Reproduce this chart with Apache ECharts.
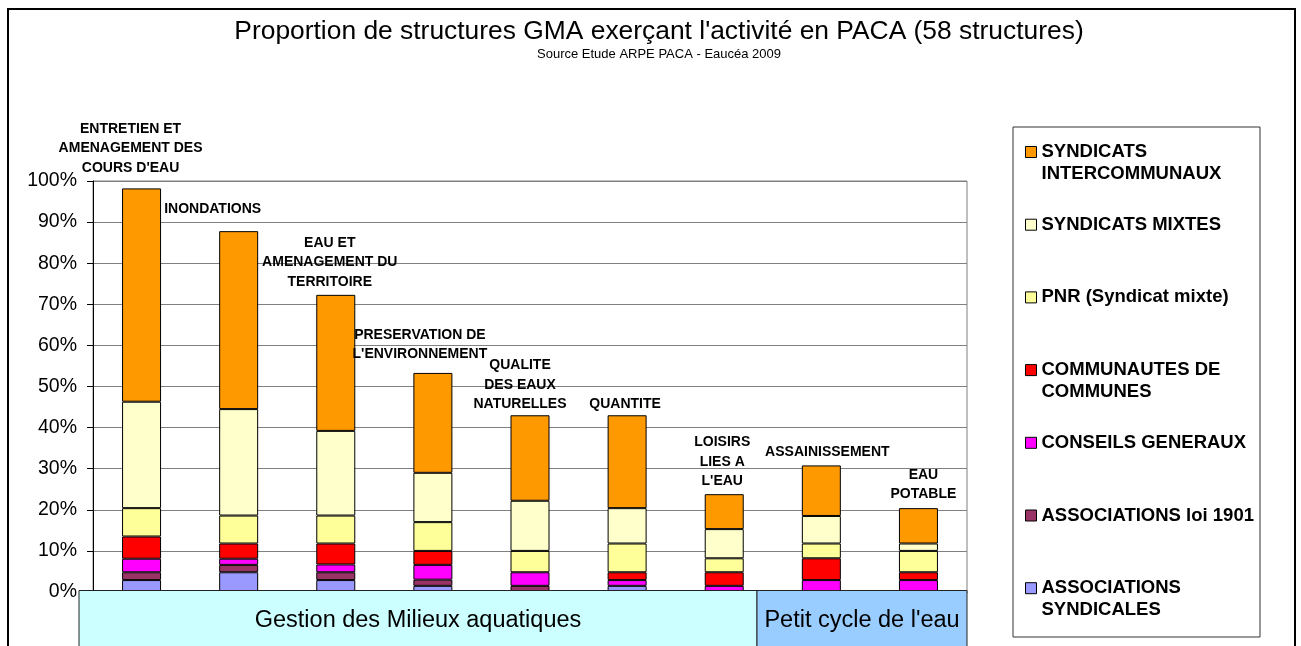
<!DOCTYPE html>
<html>
<head>
<meta charset="utf-8">
<script src="https://cdn.jsdelivr.net/npm/echarts@6/dist/echarts.min.js"></script>
<style>
html, body { margin: 0; padding: 0; background: #fff; }
#chart { width: 1301px; height: 646px; }
</style>
</head>
<body>
<div id="chart"></div>
<script>
// activities (bar labels)
var categories = [
  'ENTRETIEN ET\nAMENAGEMENT DES\nCOURS D\'EAU',
  'INONDATIONS',
  'EAU ET\nAMENAGEMENT DU\nTERRITOIRE',
  'PRESERVATION DE\nL\'ENVIRONNEMENT',
  'QUALITE\nDES EAUX\nNATURELLES',
  'QUANTITE',
  'LOISIRS\nLIES A\nL\'EAU',
  'ASSAINISSEMENT',
  'EAU\nPOTABLE'
]

// % of the 58 structures, bottom to top of the stack
var assocSyndicales = [2.9, 4.8, 2.9, 1.5, 0, 1.5, 0, 0, 0]
var assocLoi1901 = [1.9, 1.8, 1.9, 1.5, 1.5, 0, 0, 0, 0]
var conseilsGeneraux = [3.3, 1.5, 1.9, 3.6, 3.3, 1.4, 1.5, 2.9, 2.9]
var communautes = [5.4, 3.7, 5.1, 3.4, 0, 1.9, 3.3, 5.3, 1.9]
var pnr = [6.9, 6.8, 6.8, 7.0, 5.2, 7.0, 3.4, 3.6, 5.2]
var syndicatsMixtes = [25.9, 25.9, 20.6, 12.0, 12.2, 8.6, 7.1, 6.7, 1.8]
var syndicatsInter = [51.9, 43.3, 33.1, 24.3, 20.8, 22.6, 8.5, 12.3, 8.6]

var yTicks = [0, 10, 20, 30, 40, 50, 60, 70, 80, 90, 100]
var groups = ['Gestion des Milieux aquatiques', 'Petit cycle de l\'eau']

var font = 'Liberation Sans, Arial, sans-serif'

// legend text wrapping like the original
var legendText = {
  'SYNDICATS INTERCOMMUNAUX': 'SYNDICATS\nINTERCOMMUNAUX',
  'COMMUNAUTES DE COMMUNES': 'COMMUNAUTES DE\nCOMMUNES',
  'ASSOCIATIONS SYNDICALES': 'ASSOCIATIONS\nSYNDICALES'
}

// nudges for the category labels above the bars
var labelOffsets = [[-11, -11], [-26, -12], [-6, -3], [-13, -9], [-10, -1], [-2, -1], [-2, -3], [6, -4], [5, -4]]

function stackSeries (name, values, color) {
  return {
    name: name,
    type: 'bar',
    stack: 'total',
    barWidth: 39,
    itemStyle: { color: color, borderColor: '#000', borderWidth: 1 },
    data: values.map(function (v) { return v || null })
  }
}

var series = [
  stackSeries('ASSOCIATIONS SYNDICALES', assocSyndicales, '#9999ff'),
  stackSeries('ASSOCIATIONS loi 1901', assocLoi1901, '#993366'),
  stackSeries('CONSEILS GENERAUX', conseilsGeneraux, '#ff00ff'),
  stackSeries('COMMUNAUTES DE COMMUNES', communautes, '#ff0000'),
  stackSeries('PNR (Syndicat mixte)', pnr, '#ffff99'),
  stackSeries('SYNDICATS MIXTES', syndicatsMixtes, '#ffffcc'),
  stackSeries('SYNDICATS INTERCOMMUNAUX', syndicatsInter, '#ff9900')
]
var topSeries = series[series.length - 1]
topSeries.data = syndicatsInter.map(function (v, i) {
  return { value: v, label: { offset: labelOffsets[i] } }
})
topSeries.label = {
  show: true,
  position: 'top',
  distance: 0,
  formatter: function (p) { return categories[p.dataIndex] },
  fontFamily: font,
  fontWeight: 'bold',
  fontSize: 14,
  lineHeight: 19.5,
  color: '#000',
  align: 'center'
}

var chart = echarts.init(document.getElementById('chart'))
chart.setOption({
  animation: false,
  backgroundColor: '#fff',
  title: {
    text: 'Proportion de structures GMA exerçant l\'activité en PACA (58 structures)',
    subtext: 'Source Etude ARPE PACA - Eaucéa 2009',
    left: 659,
    textAlign: 'center',
    top: 18,
    padding: 0,
    itemGap: 1,
    textStyle: { fontFamily: font, fontSize: 26.4, fontWeight: 'normal', color: '#000', lineHeight: 28 },
    subtextStyle: { fontFamily: font, fontSize: 13, color: '#000', lineHeight: 15 }
  },
  legend: {
    orient: 'vertical',
    left: 1020,
    top: 114,
    itemWidth: 11,
    itemHeight: 11,
    itemGap: 6.7,
    icon: 'rect',
    selectedMode: false,
    data: series.map(function (s) { return s.name }).reverse(),
    formatter: function (name) { return '\n' + (legendText[name] || name + '\n') },
    itemStyle: { borderColor: '#000', borderWidth: 1 },
    textStyle: { fontFamily: font, fontSize: 18.5, fontWeight: 'bold', color: '#000', lineHeight: 22 }
  },
  grid: {
    left: 93,
    right: 334,
    top: 181,
    bottom: 54,
    show: true,
    borderColor: '#808080',
    borderWidth: 1
  },
  xAxis: {
    type: 'category',
    data: categories,
    axisLine: { lineStyle: { color: '#000' } },
    axisTick: { show: false },
    axisLabel: { show: false }
  },
  yAxis: {
    type: 'value',
    min: yTicks[0],
    max: yTicks[yTicks.length - 1],
    interval: yTicks[1] - yTicks[0],
    axisLine: { show: true, lineStyle: { color: '#000' } },
    axisTick: { show: true, length: 6, lineStyle: { color: '#000' } },
    axisLabel: { formatter: '{value}%', fontFamily: font, fontSize: 19.5, color: '#000', margin: 16 },
    splitLine: { lineStyle: { color: '#808080' } }
  },
  series: series,
  graphic: [
    { type: 'rect', z: 100, shape: { x: 8, y: 9, width: 1287, height: 700 }, style: { fill: 'none', stroke: '#000', lineWidth: 2 } },
    { type: 'rect', z: 100, shape: { x: 1013, y: 127, width: 247, height: 510 }, style: { fill: 'none', stroke: '#333', lineWidth: 1 } },
    { type: 'rect', z: 100, shape: { x: 79, y: 590.5, width: 678, height: 80 }, style: { fill: '#ccffff', stroke: '#222', lineWidth: 1 } },
    { type: 'rect', z: 100, shape: { x: 757, y: 590.5, width: 210, height: 80 }, style: { fill: '#99ccff', stroke: '#222', lineWidth: 1 } },
    { type: 'text', z: 101, x: 418, y: 621, style: { text: groups[0], fontFamily: font, fontSize: 23.5, fill: '#000', align: 'center', verticalAlign: 'middle' } },
    { type: 'text', z: 101, x: 862, y: 621, style: { text: groups[1], fontFamily: font, fontSize: 23.5, fill: '#000', align: 'center', verticalAlign: 'middle' } }
  ]
})
</script>
</body>
</html>
